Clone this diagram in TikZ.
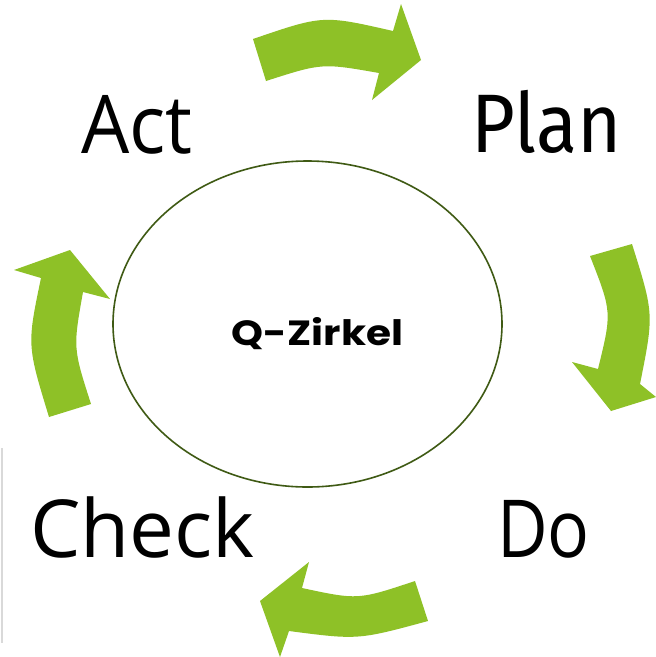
\documentclass[tikz,border=0pt]{standalone}
\usepackage{fontspec}
\usetikzlibrary{shapes.geometric}
\setmainfont{Open Sans}
\newfontfamily\firafont{Fira Sans}
\newfontfamily\popfont{Poppins}
\definecolor{arrowgreen}{HTML}{8EC127}
\definecolor{ringgreen}{HTML}{3F5A14}
\definecolor{edgegray}{HTML}{D9D9D9}
\tikzset{
  bigarrow/.style={fill=arrowgreen, draw=none},
  phase/.style={anchor=base west, inner sep=0pt, font=\fontsize{81}{90}\selectfont},
}
\begin{document}
\begin{tikzpicture}[x=1pt,y=-1pt]
\useasboundingbox (0,0) rectangle (656,657);
\fill[white] (0,0) rectangle (656,657);
% thin gray edge line
\coordinate (g1) at (1.5,448);
\coordinate (g2) at (1.5,643);
\draw[edgegray, line width=2pt] (g1) -- (g2);
% circle
\node[draw=ringgreen, line width=1.6pt, ellipse, minimum width=389pt, minimum height=326pt, inner sep=0pt] (ring) at (307.5,324) {};
\node[anchor=base, inner sep=0pt, font=\popfont\bfseries\fontsize{35}{38}\selectfont\addfontfeatures{FakeStretch=1.16}] (title) at (317.5,345) {Q-Zirkel};
% labels
\node[phase, font=\fontsize{81}{90}\selectfont\addfontfeatures{FakeStretch=0.94}] (act) at (81,153) {Act};
\node[phase, font=\firafont\fontsize{83}{90}\selectfont\addfontfeatures{FakeStretch=0.91}] (plan) at (471,152) {Plan};
\node[phase, font=\fontsize{80}{90}\selectfont] (check) at (30,557) {Check};
\node[phase, font=\fontsize{80}{90}\selectfont\addfontfeatures{FakeStretch=0.87}] (do) at (497,557) {Do};
% arrows
\fill[bigarrow] (253,39) .. controls (323,15) .. (393,31) -- (401,4) -- (421,60) -- (372,100) -- (379,73) .. controls (322,63) .. (266,81) -- cycle;
\fill[bigarrow] (590,256) -- (632,244) .. controls (654,314) .. (640,384) -- (656,397) -- (611,411) -- (572,362) -- (598,369) .. controls (612,312) .. (590,256) -- cycle;
\fill[bigarrow] (415,581) .. controls (358,600) .. (302,588) -- (309,562) -- (260,601) -- (280,657) -- (289,631) .. controls (358,640) .. (428,621) -- cycle;
\fill[bigarrow] (49,417) .. controls (27,345) .. (41,278) -- (14,270) -- (70,250) -- (110,299) -- (83,292) .. controls (73,348) .. (91,404) -- cycle;
\end{tikzpicture}
\end{document}
